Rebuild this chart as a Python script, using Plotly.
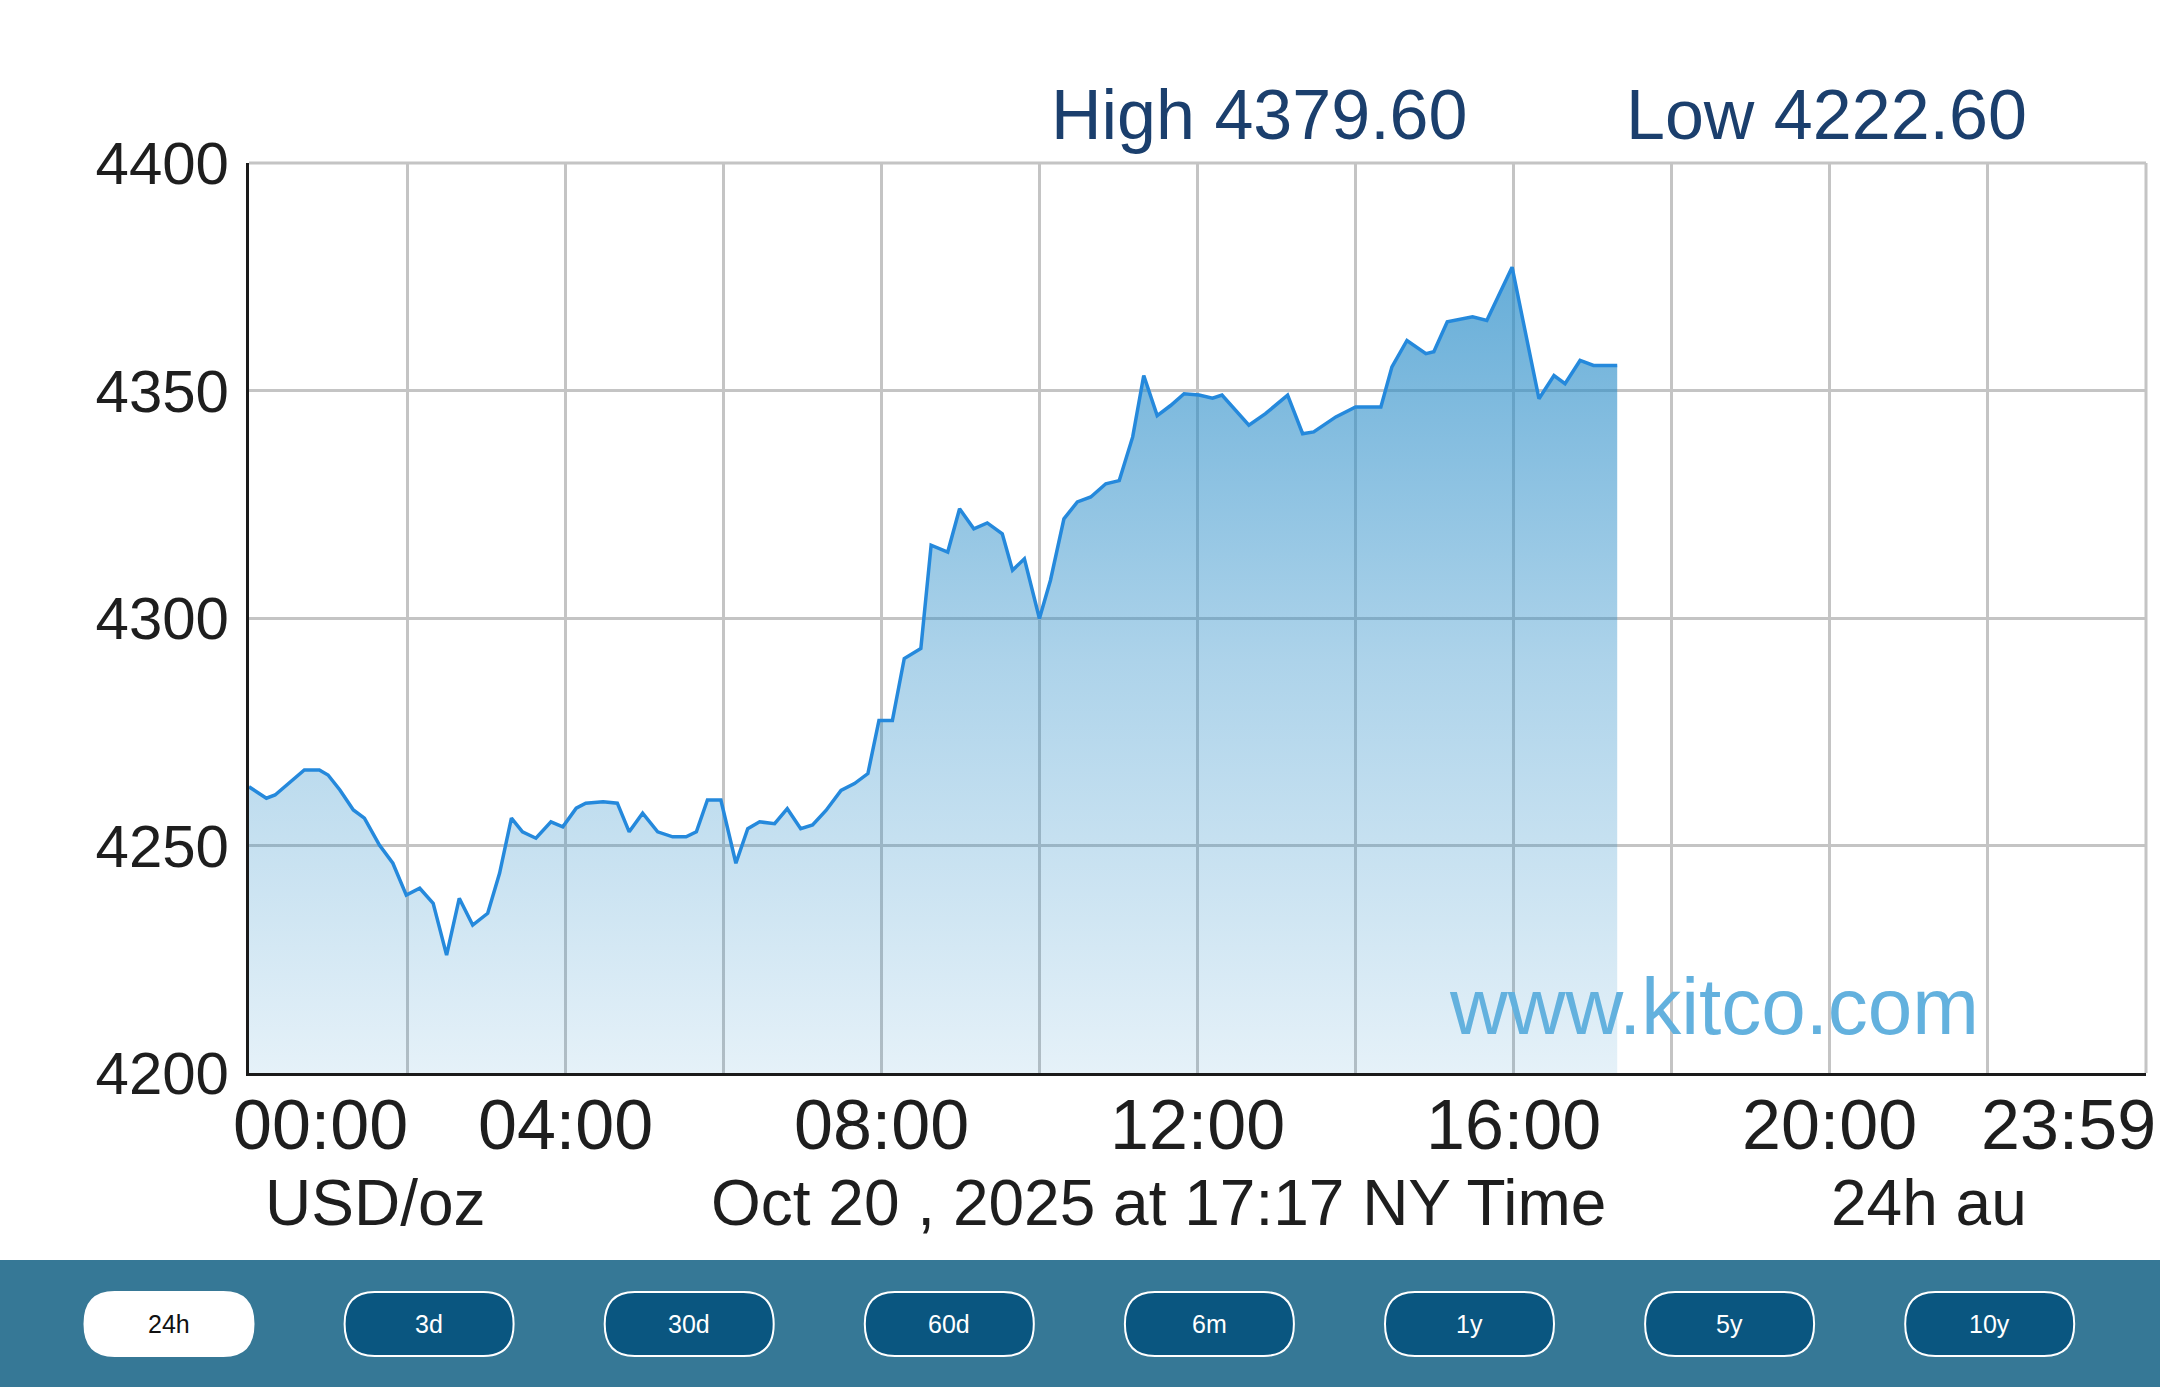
import plotly.graph_objects as go

# 24h gold spot, Oct 20 2025 (NY time); x = hours after midnight
hours = [0.0, 0.22, 0.33, 0.51, 0.70, 0.89, 1.00, 1.15, 1.32, 1.46, 1.65, 1.82, 1.99, 2.16, 2.33, 2.50,
         2.66, 2.83, 3.02, 3.17, 3.32, 3.46, 3.63, 3.82, 3.97, 4.14, 4.26, 4.48, 4.66, 4.81, 4.98, 5.17,
         5.36, 5.53, 5.66, 5.80, 5.97, 6.16, 6.31, 6.46, 6.65, 6.81, 6.98, 7.13, 7.30, 7.49, 7.66, 7.83,
         7.97, 8.14, 8.29, 8.50, 8.63, 8.84, 8.99, 9.17, 9.34, 9.53, 9.66, 9.81, 10.00, 10.14, 10.31, 10.48,
         10.65, 10.84, 11.01, 11.18, 11.32, 11.49, 11.66, 11.83, 12.02, 12.19, 12.31, 12.65, 12.86, 13.14,
         13.33, 13.47, 13.75, 14.00, 14.32, 14.46, 14.65, 14.89, 14.99, 15.16, 15.48, 15.66, 15.98, 16.32,
         16.51, 16.65, 16.84, 17.01, 17.31]
prices = [4262.9, 4260.4, 4261.1, 4263.7, 4266.6, 4266.6, 4265.5, 4262.2, 4257.8, 4256.0, 4250.1, 4246.1,
          4239.1, 4240.6, 4237.3, 4225.9, 4238.4, 4232.5, 4235.1, 4243.9, 4256.0, 4253.0, 4251.6, 4255.2,
          4254.1, 4258.2, 4259.3, 4259.6, 4259.3, 4253.0, 4257.1, 4253.0, 4251.9, 4251.9, 4253.0, 4260.0,
          4260.0, 4246.1, 4253.7, 4255.2, 4254.8, 4258.1, 4253.7, 4254.5, 4257.7, 4262.1, 4263.6, 4265.8,
          4277.5, 4277.5, 4291.1, 4293.3, 4316.0, 4314.5, 4324.0, 4319.6, 4320.9, 4318.5, 4310.5, 4313.0,
          4299.9, 4308.3, 4321.8, 4325.5, 4326.6, 4329.5, 4330.2, 4339.8, 4353.3, 4344.5, 4346.7, 4349.3,
          4349.0, 4348.3, 4349.0, 4342.4, 4344.9, 4349.0, 4340.5, 4340.9, 4344.2, 4346.4, 4346.4, 4355.2,
          4361.0, 4358.1, 4358.5, 4365.1, 4366.2, 4365.4, 4377.1, 4348.2, 4353.3, 4351.5, 4356.6, 4355.5,
          4355.5]

high_value = 4379.60
low_value = 4222.60

x_grid = [0, 2, 4, 6, 8, 10, 12, 14, 16, 18, 20, 22, 24]
x_label_hours = [0, 4, 8, 12, 16, 20, 24]
x_labels = ["00:00", "04:00", "08:00", "12:00", "16:00", "20:00", "23:59"]
y_ticks = [4200, 4250, 4300, 4350, 4400]

unit_text = "USD/oz"
date_text = "Oct 20 , 2025 at 17:17 NY Time"
source_text = "24h au"
watermark = "www.kitco.com"
periods = ["24h", "3d", "30d", "60d", "6m", "1y", "5y", "10y"]

FONT = "Liberation Sans, Arial, sans-serif"
GRID = "#c4c4c4"
INK = "#1e1e1e"
W, H = 2160, 1387
L, R, T, B = 249, 2146, 163, 1073


def px(x):
    return (x - L) / (R - L)


def py(y):
    return (B - y) / (B - T)


def pill(cx, cy, w, h, r):
    x0, x1 = cx - w / 2, cx + w / 2
    y0, y1 = cy - h / 2, cy + h / 2
    pts = [
        ("M", (x0 + r, y0)), ("L", (x1 - r, y0)), ("Q", (x1, y0), (x1, cy)),
        ("Q", (x1, y1), (x1 - r, y1)), ("L", (x0 + r, y1)), ("Q", (x0, y1), (x0, cy)),
        ("Q", (x0, y0), (x0 + r, y0)),
    ]
    s = ""
    for p in pts:
        s += p[0] + " ".join(f"{px(a):.5f},{py(b):.5f}" for a, b in p[1:]) + " "
    return s + "Z"


def label(x, y, text, size, color, xref="paper", xanchor="center", xshift=0):
    return dict(xref=xref, yref="paper", x=x, y=y, text=text, showarrow=False,
                xanchor=xanchor, yanchor="middle", xshift=xshift,
                font=dict(family=FONT, size=size, color=color))


fig = go.Figure()

fig.add_trace(go.Scatter(
    x=hours, y=prices, mode="lines",
    line=dict(color="#2589dc", width=3.5),
    fill="tozeroy",
    fillgradient=dict(
        type="vertical", start=4200, stop=4380,
        colorscale=[[0, "rgba(40,140,200,0.12)"], [0.5, "rgba(40,140,200,0.38)"],
                    [1, "rgba(40,140,200,0.72)"]],
    ),
    hoverinfo="skip",
))

shapes = [
    dict(type="rect", xref="paper", yref="paper", x0=px(0), x1=px(W), y0=py(1260), y1=py(H),
         fillcolor="#367896", line_width=0, layer="below"),
    # top and right border of the grid
    dict(type="line", xref="paper", yref="paper", x0=0, x1=1, y0=1, y1=1,
         line=dict(color=GRID, width=3), layer="below"),
    dict(type="line", xref="paper", yref="paper", x0=1, x1=1, y0=0, y1=1,
         line=dict(color=GRID, width=3), layer="below"),
]
annotations = []

for i, p in enumerate(periods):
    cx = 169 + i * 260.1
    active = i == 0
    shapes.append(dict(
        type="path", xref="paper", yref="paper", path=pill(cx, 1324, 169, 64, 30),
        fillcolor="#ffffff" if active else "#0a5680",
        line=dict(color="#ffffff", width=2),
    ))
    annotations.append(label(px(cx), py(1324), p, 25, "#111111" if active else "#ffffff"))

# time labels under the axis; the end ones hug the plot edges
for i, (h, t) in enumerate(zip(x_label_hours, x_labels)):
    if i == 0:
        annotations.append(label(h, py(1125), t, 70, INK, xref="x", xanchor="left", xshift=-18))
    elif i == len(x_labels) - 1:
        annotations.append(label(h, py(1125), t, 70, INK, xref="x", xanchor="right", xshift=12))
    else:
        annotations.append(label(h, py(1125), t, 70, INK, xref="x"))

annotations += [
    label(px(1259), py(115), f"High {high_value:.2f}", 70, "#1b3f6d"),
    label(px(1826), py(115), f"Low {low_value:.2f}", 70, "#1b3f6d"),
    label(px(1714), py(1006), watermark, 80, "#63b1de"),
    label(px(375), py(1203), unit_text, 64, INK),
    label(px(1158), py(1203), date_text, 64, INK),
    label(px(1929), py(1203), source_text, 64, INK),
]

fig.update_layout(
    width=W, height=H,
    margin=dict(l=L, r=W - R, t=T, b=H - B),
    paper_bgcolor="white", plot_bgcolor="white",
    showlegend=False,
    shapes=shapes, annotations=annotations,
    xaxis=dict(
        range=[0, 24], tickvals=x_grid, showticklabels=False,
        showgrid=True, gridcolor=GRID, gridwidth=3,
        showline=True, linecolor="#1a1a1a", linewidth=3,
        ticks="", zeroline=False,
    ),
    yaxis=dict(
        range=[4200, 4400], tickvals=y_ticks,
        showgrid=True, gridcolor=GRID, gridwidth=3,
        showline=True, linecolor="#1a1a1a", linewidth=3,
        ticks="", ticklabelstandoff=5, zeroline=False,
        tickfont=dict(family=FONT, size=60, color=INK),
    ),
)

fig.write_html("out.html", config={"displayModeBar": False},
               post_script="document.body.style.margin='0';")
